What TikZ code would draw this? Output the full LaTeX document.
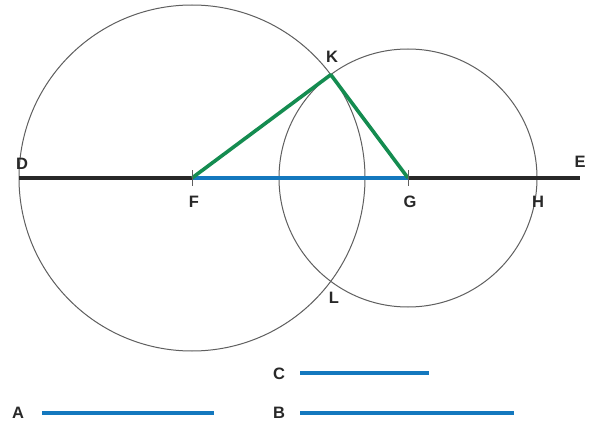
\documentclass[tikz,border=0pt]{standalone}
\usepackage{fontspec}
\setmainfont{Liberation Sans}
\definecolor{circ}{RGB}{95,95,95}
\definecolor{blk}{RGB}{40,40,40}
\definecolor{blu}{RGB}{20,120,190}
\definecolor{grn}{RGB}{20,140,80}
\tikzset{
  lbl/.style={font=\fontsize{16.5}{16.5}\selectfont\bfseries, text=blk, inner sep=0pt},
  circle line/.style={draw=circ, line width=1pt},
  main line/.style={draw=blk, line width=3.6pt},
  blue line/.style={draw=blu, line width=3.6pt},
  green line/.style={draw=grn, line width=3.6pt, line join=round},
  tick line/.style={draw=circ, line width=0.9pt}
}
\begin{document}
\begin{tikzpicture}[x=1pt,y=-1pt]
\useasboundingbox[fill=white] (0,0) rectangle (592,425);
% points
\coordinate (D) at (19,178);
\coordinate (E) at (580,178);
\coordinate (F) at (192,178);
\coordinate (G) at (408,178);
\coordinate (H) at (537,178);
\coordinate (K) at (330.8,74.7);
\coordinate (L) at (330.8,281.3);
% circles
\draw[circle line] (F) circle[radius=173pt];
\draw[circle line] (G) circle[radius=129pt];
% lines
\draw[main line] (D) -- (E);
\draw[blue line] (F) -- (G);
\draw[green line] (F) -- (K) -- (G);
% ticks
\draw[tick line] ([yshift=-8pt]F) -- ([yshift=8pt]F);
\draw[tick line] ([yshift=-8pt]G) -- ([yshift=8pt]G);
% labels
\node[lbl] (lD) at (22,164) {D};
\node[lbl] (lE) at (580,162) {E};
\node[lbl] (lF) at (194,202) {F};
\node[lbl] (lG) at (410,202) {G};
\node[lbl] (lH) at (538,202) {H};
\node[lbl] (lK) at (332,57) {K};
\node[lbl] (lL) at (334,298) {L};
% given segments
\node[lbl] (lC) at (279,374) {C};
\node[lbl] (lA) at (18,413) {A};
\node[lbl] (lB) at (279,413) {B};
\coordinate (c1) at (300,373);
\coordinate (c2) at (429,373);
\coordinate (a1) at (42,413);
\coordinate (a2) at (214,413);
\coordinate (b1) at (300,413);
\coordinate (b2) at (514,413);
\draw[blue line] (c1) -- (c2);
\draw[blue line] (a1) -- (a2);
\draw[blue line] (b1) -- (b2);
\end{tikzpicture}
\end{document}
